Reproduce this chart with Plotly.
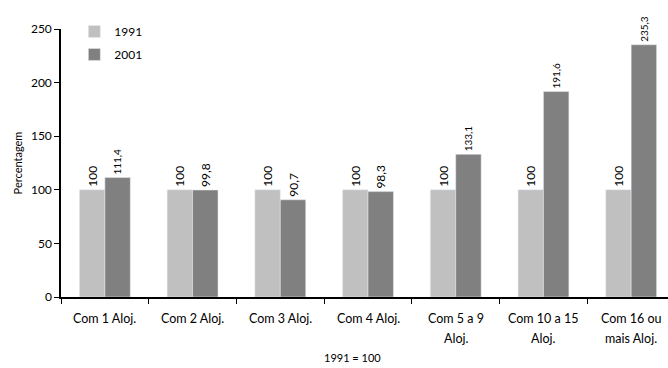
import plotly.graph_objects as go

categories = ["Com 1 Aloj.", "Com 2 Aloj.", "Com 3 Aloj.", "Com 4 Aloj.",
              "Com 5 a 9 Aloj.", "Com 10 a 15 Aloj.", "Com 16 ou mais Aloj."]
tick_line1 = ["Com 1 Aloj.", "Com 2 Aloj.", "Com 3 Aloj.", "Com 4 Aloj.",
              "Com 5 a 9", "Com 10 a 15", "Com 16 ou"]
tick_line2 = ["", "", "", "", "Aloj.", "Aloj.", "mais Aloj."]
v1991 = [100, 100, 100, 100, 100, 100, 100]
v2001 = [111.4, 99.8, 90.7, 98.3, 133.1, 191.6, 235.3]
labels1991 = ["100"] * 7
labels2001 = ["111,4", "99,8", "90,7", "98,3", "133,1", "191,6", "235,3"]
yticks = [0, 50, 100, 150, 200, 250]

FONT = "Lato, 'Open Sans', sans-serif"

fig = go.Figure()
fig.add_trace(go.Bar(x=categories, y=v1991, name="1991", marker_color="#C0C0C0",
                     legendgroup="a",
                     text=labels1991, textposition="outside", textangle=-90,
                     textfont=dict(size=12, color="black"), cliponaxis=False))
fig.add_trace(go.Bar(x=categories, y=v2001, name="2001", marker_color="#808080",
                     legendgroup="b",
                     text=labels2001, textposition="outside", textangle=-90,
                     textfont=dict(size=12, color="black"), cliponaxis=False))

fig.update_layout(
    width=668, height=368,
    margin=dict(l=61, r=0, t=29, b=71),
    plot_bgcolor="white", paper_bgcolor="white",
    barmode="group", bargap=0.42, bargroupgap=0,
    font=dict(family=FONT, size=12, color="black"),
    showlegend=True,
    legend=dict(x=0.022, y=1.045, xanchor="left", yanchor="top",
                bgcolor="rgba(0,0,0,0)", font=dict(size=12),
                itemwidth=30, tracegroupgap=4),
)
fig.update_xaxes(range=[-0.5, 6.42], showline=True, linecolor="black", linewidth=1.5,
                 ticks="outside", tickson="boundaries", ticklen=5, tickcolor="black",
                 showticklabels=False, showgrid=False)
fig.update_yaxes(range=[0, 250], tickvals=yticks, showline=True, linecolor="black",
                 linewidth=1.5, ticks="outside", ticklen=5, tickcolor="black",
                 tickfont=dict(size=12), showgrid=False, zeroline=False,
                 title=dict(text="Percentagem", font=dict(size=11), standoff=6))

for cat, l1, l2 in zip(categories, tick_line1, tick_line2):
    fig.add_annotation(text=l1, x=cat, xref="x", yref="paper", y=-0.08,
                       showarrow=False, yanchor="middle", font=dict(size=12.5))
    if l2:
        fig.add_annotation(text=l2, x=cat, xref="x", yref="paper", y=-0.155,
                           showarrow=False, yanchor="middle", font=dict(size=12.5))

fig.add_annotation(text="1991 = 100", xref="paper", yref="paper", x=0.48, y=-0.225,
                   showarrow=False, yanchor="middle", font=dict(size=11))

fig.write_html("out.html")
